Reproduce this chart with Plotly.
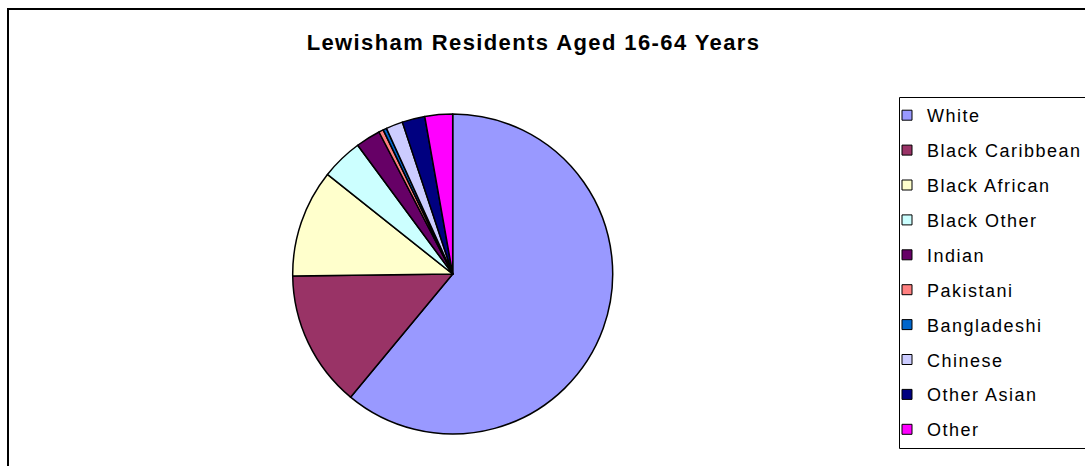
import plotly.graph_objects as go

# Ethnic breakdown of Lewisham residents aged 16-64 (percent)
groups = ["White", "Black Caribbean", "Black African", "Black Other", "Indian",
          "Pakistani", "Bangladeshi", "Chinese", "Other Asian", "Other"]
shares = [61.1, 13.8, 10.9, 4.2, 2.5, 0.47, 0.36, 1.7, 2.3, 2.8]
colours = ["#9999FF", "#993366", "#FFFFCC", "#CCFFFF", "#660066",
           "#FF8080", "#0066CC", "#CCCCFF", "#000080", "#FF00FF"]

W, H = 1085, 466


def px_x(x):
    return x / W


def px_y(y):
    return 1 - y / H


fig = go.Figure()

fig.add_trace(go.Pie(
    labels=groups,
    values=shares,
    sort=False,
    direction="clockwise",
    rotation=0,
    textinfo="none",
    marker=dict(colors=colours, line=dict(color="black", width=1.5)),
    showlegend=False,
    domain=dict(x=[px_x(292.7), px_x(612.7)], y=[px_y(434), px_y(114)]),
))

# One legend entry per group, each in its own group so the spacing can be set
for name, col in zip(groups, colours):
    fig.add_trace(go.Scatter(
        x=[None], y=[None], mode="markers", name=name, legendgroup=name,
        marker=dict(symbol="square", size=10, color=col,
                    line=dict(color="black", width=1)),
        hoverinfo="skip",
    ))

fig.update_layout(
    width=W, height=H,
    margin=dict(l=0, r=0, t=0, b=0),
    paper_bgcolor="white",
    plot_bgcolor="white",
    xaxis=dict(visible=False),
    yaxis=dict(visible=False),
    title=dict(
        text="<b>Lewisham Residents Aged 16-64 Years</b>",
        x=px_x(533.5), xanchor="center",
        y=px_y(42.3), yanchor="middle", yref="container",
        font=dict(family="Liberation Sans, Arial", size=22, color="black"),
    ),
    legend=dict(
        x=px_x(887), xanchor="left",
        y=px_y(97.0), yanchor="top",
        traceorder="grouped",
        tracegroupgap=8.5,
        bgcolor="rgba(0,0,0,0)",
        borderwidth=0,
        font=dict(family="Liberation Sans, Arial", size=18, color="black"),
    ),
    shapes=[
        # outer chart frame
        dict(type="rect", xref="paper", yref="paper",
             x0=px_x(8), x1=1.05, y0=-0.05, y1=px_y(9),
             line=dict(color="black", width=2), fillcolor="rgba(0,0,0,0)"),
        # legend box
        dict(type="rect", xref="paper", yref="paper",
             x0=px_x(899.5), x1=1.05, y0=px_y(448.5), y1=px_y(97.5),
             line=dict(color="black", width=1), fillcolor="rgba(0,0,0,0)"),
    ],
)

spacing_js = """
var gd = document.getElementById('{plot_id}');
gd.querySelectorAll('.legendtext').forEach(function(t){ t.style.letterSpacing = '1.5px'; });
gd.querySelectorAll('.legend .scrollbox, .legend').forEach(function(g){ g.removeAttribute('clip-path'); });
gd.querySelectorAll('.gtitle').forEach(function(t){ t.style.letterSpacing = '1.4px'; });
"""

fig.write_html("out.html", post_script=spacing_js)
